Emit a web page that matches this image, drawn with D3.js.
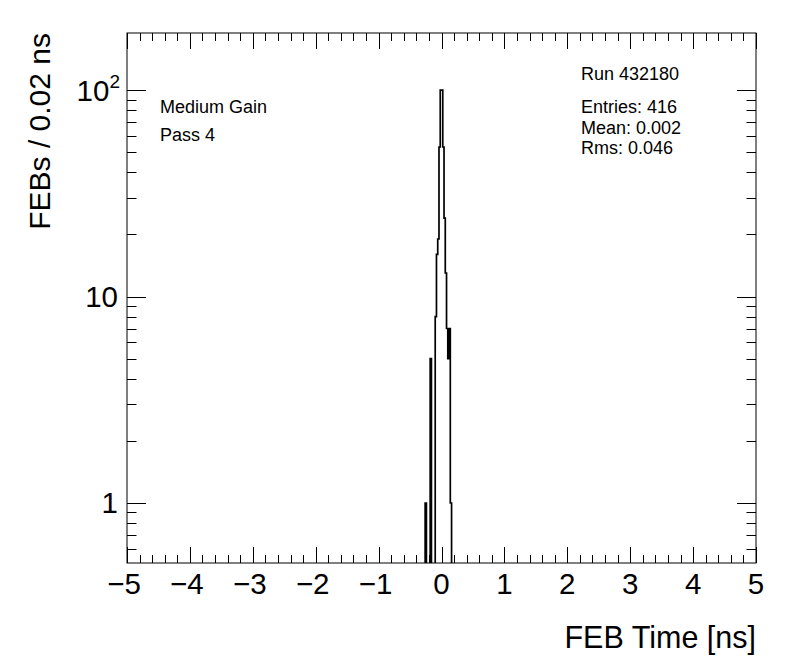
<!DOCTYPE html>
<html>
<head>
<meta charset="utf-8">
<script src="https://cdn.jsdelivr.net/npm/d3@7"></script>
<style>
  html, body { margin: 0; padding: 0; background: #fff; }
  svg { display: block; font-family: "Liberation Sans", Arial, Helvetica, sans-serif; }
</style>
</head>
<body>
<div id="plot"></div>
<script>
// histogram contents: lower bin edges (ns) and counts, 0.02 ns bins, all other bins empty
const binLow = [-0.26, -0.18, -0.10, -0.08, -0.06, -0.04, -0.02, 0.00, 0.02, 0.04, 0.06, 0.08, 0.10, 0.12, 0.14];
const counts = [1, 5, 8, 16, 19, 53, 100, 100, 53, 24, 13, 7, 5, 7, 1];
const binWidth = 0.02;
const xDomain = [-5, 5];
const yDomain = [0.512, 189];
const xTickLabels = ["\u22125", "\u22124", "\u22123", "\u22122", "\u22121", "0", "1", "2", "3", "4", "5"];
const yTickValues = [1, 10, 100];
const infoLeft = ["Medium Gain", "Pass 4"];
const runLabel = "Run 432180";
const statLines = ["Entries: 416", "Mean: 0.002", "Rms: 0.046"];

const width = 796, height = 672;
const frame = {left: 127, right: 756, top: 33, bottom: 563};

const svg = d3.select("#plot").append("svg")
    .attr("width", width)
    .attr("height", height);

const x = d3.scaleLinear().domain(xDomain).range([frame.left, frame.right]);
const y = d3.scaleLog().domain(yDomain).range([frame.bottom, frame.top]);

svg.append("defs").append("clipPath").attr("id", "frame-clip")
    .append("rect")
    .attr("x", frame.left).attr("y", frame.top)
    .attr("width", frame.right - frame.left).attr("height", frame.bottom - frame.top);

// fill the full 500 bin array from the named data
const nBins = Math.round((xDomain[1] - xDomain[0]) / binWidth);
const bins = d3.range(nBins).map(i => ({lo: xDomain[0] + i * binWidth, n: 0}));
binLow.forEach((lo, k) => {
    const i = Math.round((lo - xDomain[0]) / binWidth);
    bins[i].n = counts[k];
});

const yOf = n => n > 0 ? y(n) : frame.bottom + 2;
let d = `M${x(xDomain[0])},${frame.bottom + 2}`;
bins.forEach(b => {
    d += `V${yOf(b.n)}H${x(b.lo + binWidth)}`;
});
d += `V${frame.bottom + 2}`;

svg.append("path")
    .attr("d", d)
    .attr("fill", "none")
    .attr("stroke", "#000")
    .attr("stroke-width", 1.7)
    .attr("clip-path", "url(#frame-clip)");

// frame
svg.append("rect")
    .attr("x", frame.left).attr("y", frame.top)
    .attr("width", frame.right - frame.left).attr("height", frame.bottom - frame.top)
    .attr("fill", "none").attr("stroke", "#000").attr("stroke-width", 1);

// x ticks, bottom and top
const xMajor = d3.range(-5, 5.001, 1);
const xMinor = d3.range(-5, 5.001, 0.2).filter(v => Math.abs(v - Math.round(v)) > 1e-6);
const ticks = svg.append("g").attr("stroke", "#000").attr("stroke-width", 1);
const tx = (vals, len) => {
    vals.forEach(v => {
        const px = Math.round(x(v)) + 0.5;
        ticks.append("line").attr("x1", px).attr("x2", px)
            .attr("y1", frame.bottom).attr("y2", frame.bottom - len);
        ticks.append("line").attr("x1", px).attr("x2", px)
            .attr("y1", frame.top).attr("y2", frame.top + len);
    });
};
tx(xMajor, 16);
tx(xMinor, 8);

// y ticks, left and right
const yMinor = [];
[0.1, 1, 10].forEach(dec => d3.range(2, 10).forEach(m => {
    const v = m * dec;
    if (v > yDomain[0] && v < yDomain[1]) yMinor.push(v);
}));
const ty = (vals, len) => {
    vals.forEach(v => {
        const py = Math.round(y(v)) + 0.5;
        ticks.append("line").attr("y1", py).attr("y2", py)
            .attr("x1", frame.left).attr("x2", frame.left + len);
        ticks.append("line").attr("y1", py).attr("y2", py)
            .attr("x1", frame.right).attr("x2", frame.right - len);
    });
};
ty(yTickValues, 19);
ty(yMinor, 9.5);

// x tick labels
svg.append("g").selectAll("text")
    .data(xMajor)
    .join("text")
    .attr("x", v => x(v) + (v < 0 ? -3 : 0))
    .attr("y", 594)
    .attr("text-anchor", "middle")
    .attr("font-size", 29.5)
    .text((v, i) => xTickLabels[i]);

// y tick labels
const yl = svg.append("g").attr("font-size", 29.5).attr("text-anchor", "end");
yTickValues.forEach(v => {
    const exp = Math.round(Math.log10(v));
    if (exp < 2) {
        yl.append("text").attr("x", 118).attr("y", y(v) + 10.5).text(String(v));
    } else {
        const t = yl.append("text").attr("x", 120).attr("y", y(v) + 10.5);
        t.append("tspan").text("10");
        t.append("tspan").attr("dy", -13).attr("font-size", 19).text(String(exp));
    }
});

// axis titles
svg.append("text")
    .attr("x", frame.right).attr("y", 648)
    .attr("text-anchor", "end")
    .attr("font-size", 30.5)
    .text("FEB Time [ns]");

svg.append("text")
    .attr("transform", `translate(50,${frame.top}) rotate(-90)`)
    .attr("text-anchor", "end")
    .attr("font-size", 30)
    .text("FEBs / 0.02 ns");

// labels in the frame
svg.append("g").attr("font-size", 18).selectAll("text")
    .data(infoLeft)
    .join("text")
    .attr("x", 160)
    .attr("y", (t, i) => 113 + i * 28)
    .text(t => t);

svg.append("text").attr("x", 581).attr("y", 80).attr("font-size", 18).text(runLabel);

svg.append("g").attr("font-size", 18).selectAll("text")
    .data(statLines)
    .join("text")
    .attr("x", 581)
    .attr("y", (t, i) => 113 + i * 20.5)
    .text(t => t);
</script>
</body>
</html>
